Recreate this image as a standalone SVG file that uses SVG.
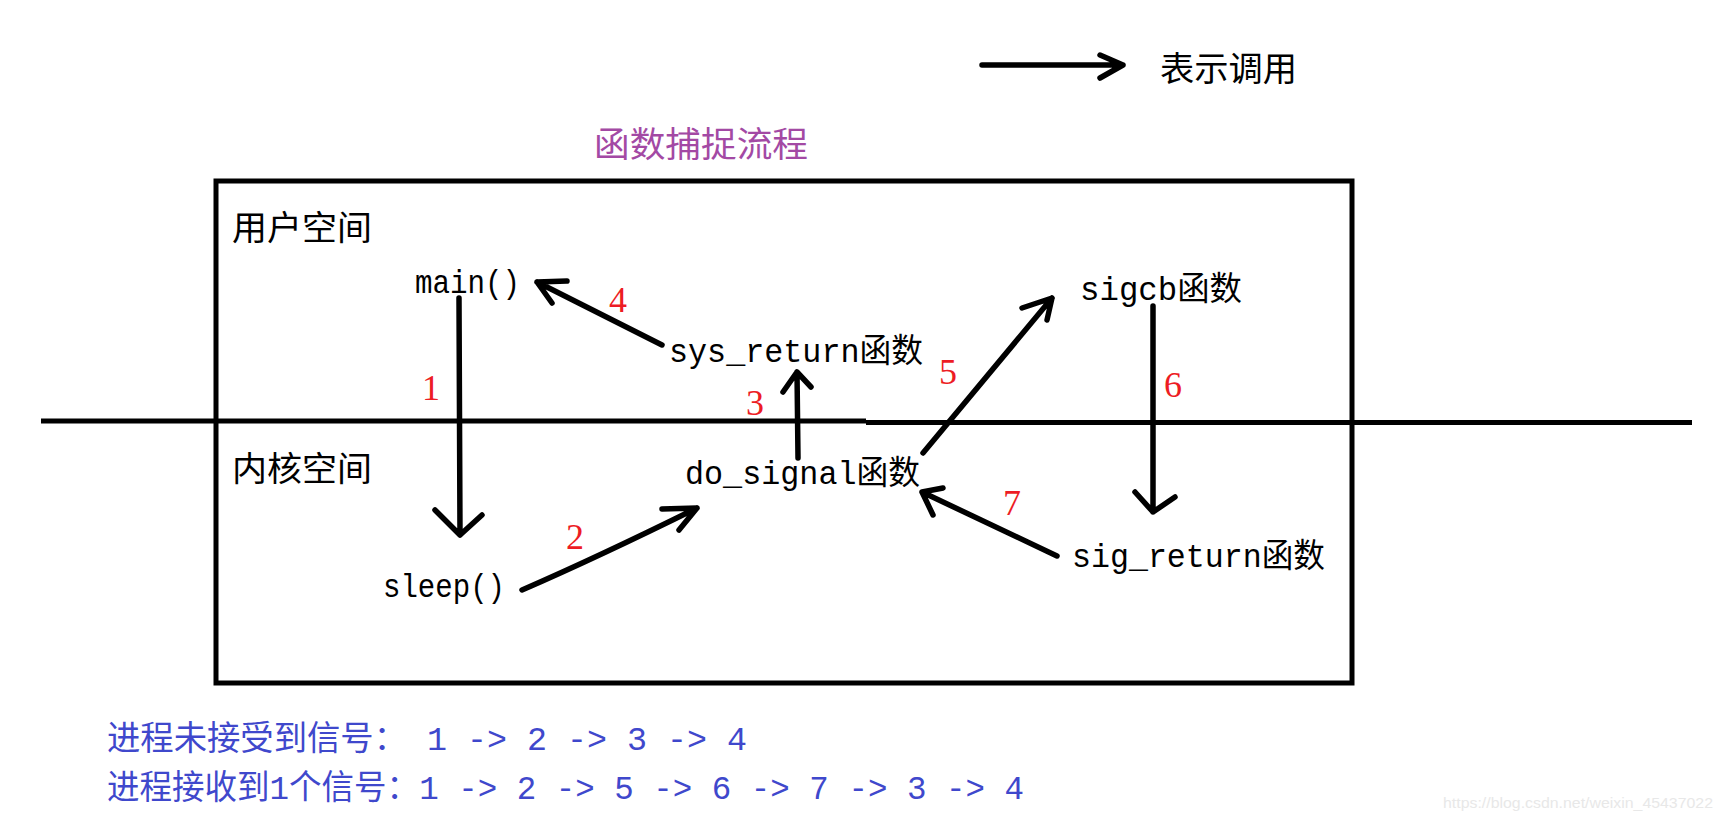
<svg xmlns="http://www.w3.org/2000/svg" width="1723" height="821" viewBox="0 0 1723 821">
<style>
.frame{fill:none;stroke:#000;stroke-width:5}
.sep{fill:none;stroke:#000;stroke-width:5}
.arr{fill:none;stroke:#000;stroke-width:5.5;stroke-linecap:round;stroke-linejoin:round}
.node{font-family:"Liberation Mono","Noto Sans CJK SC",monospace;font-size:33px;fill:#000}
.zone{font-family:"Noto Sans CJK SC",sans-serif;font-size:34px;fill:#000}
.num{font-family:"Liberation Serif","Noto Sans CJK SC",serif;font-size:36px;fill:#ED1C24;text-anchor:middle}
.title{font-family:"Noto Sans CJK SC",sans-serif;font-size:35px;fill:#A349A4}
.seq{font-family:"Liberation Mono","Noto Sans CJK SC",monospace;font-size:34px;fill:#3F48CC}
.wm{font-family:"Liberation Sans",sans-serif;font-size:15px;fill:#e8e8e8}
</style>
<rect width="1723" height="821" fill="#fff"/>

<g id="legend">
<path class="arr" d="M982,65 L1123,65 M1100,55 L1123,65 L1100,78"/>
<text class="zone" x="1160" y="81" textLength="137" lengthAdjust="spacingAndGlyphs">表示调用</text>
</g>

<g id="title">
<text class="title" x="594" y="157" textLength="214" lengthAdjust="spacingAndGlyphs">函数捕捉流程</text>
</g>

<g id="frame">
<rect class="frame" x="216" y="181" width="1136" height="502"/>
<path class="sep" d="M41,421 L866,421 M866,422.5 L1692,422.5"/>
</g>

<g id="user-space">
<text class="zone" x="232" y="240" textLength="140" lengthAdjust="spacingAndGlyphs">用户空间</text>
</g>
<g id="kernel-space">
<text class="zone" x="232" y="481" textLength="140" lengthAdjust="spacingAndGlyphs">内核空间</text>
</g>

<g id="node-main">
<text class="node" x="415" y="293" textLength="105" lengthAdjust="spacingAndGlyphs">main()</text>
</g>
<g id="node-sys-return">
<text class="node" x="669" y="362" textLength="254" lengthAdjust="spacingAndGlyphs">sys_return函数</text>
</g>
<g id="node-sigcb">
<text class="node" x="1080" y="300" textLength="162" lengthAdjust="spacingAndGlyphs">sigcb函数</text>
</g>
<g id="node-do-signal">
<text class="node" x="685" y="484" textLength="235" lengthAdjust="spacingAndGlyphs">do_signal函数</text>
</g>
<g id="node-sleep">
<text class="node" x="383" y="597" textLength="122" lengthAdjust="spacingAndGlyphs">sleep()</text>
</g>
<g id="node-sig-return">
<text class="node" x="1072" y="567" textLength="253" lengthAdjust="spacingAndGlyphs">sig_return函数</text>
</g>

<g id="connectors">
<!-- 1: main -> sleep -->
<path class="arr" d="M459,298 L460,535 M435,510 L460,535 L482,515"/>
<!-- 2: sleep -> do_signal -->
<path class="arr" d="M522,590 Q600,556 697,508 M662,509 L697,508 L679,530"/>
<!-- 3: do_signal -> sys_return -->
<path class="arr" d="M798,458 L797,372 M783,392 L797,372 L811,387"/>
<!-- 4: sys_return -> main -->
<path class="arr" d="M662,345 L537,282 M567,281 L537,282 L552,303"/>
<!-- 5: do_signal -> sigcb -->
<path class="arr" d="M923,453 L1052,298 M1022,308 L1052,298 L1047,320"/>
<!-- 6: sigcb -> sig_return -->
<path class="arr" d="M1153,306 L1153,512 M1135,492 L1153,512 L1175,497"/>
<!-- 7: sig_return -> do_signal -->
<path class="arr" d="M1057,556 L922,492 M943,488 L922,492 L933,515"/>
<g id="step-labels">
<text class="num" x="431" y="400">1</text>
<text class="num" x="575" y="549">2</text>
<text class="num" x="755" y="415">3</text>
<text class="num" x="618" y="312">4</text>
<text class="num" x="948" y="384">5</text>
<text class="num" x="1173" y="397">6</text>
<text class="num" x="1012" y="515">7</text>
</g>
</g>

<g id="sequences">
<text class="seq" x="107" y="750" textLength="640" lengthAdjust="spacingAndGlyphs">进程未接受到信号： 1 -&gt; 2 -&gt; 3 -&gt; 4</text>
<text class="seq" x="107" y="799" textLength="917" lengthAdjust="spacingAndGlyphs">进程接收到1个信号：1 -&gt; 2 -&gt; 5 -&gt; 6 -&gt; 7 -&gt; 3 -&gt; 4</text>
</g>

<g id="watermark">
<text class="wm" x="1443" y="808" textLength="270" lengthAdjust="spacingAndGlyphs">https://blog.csdn.net/weixin_45437022</text>
</g>
</svg>
